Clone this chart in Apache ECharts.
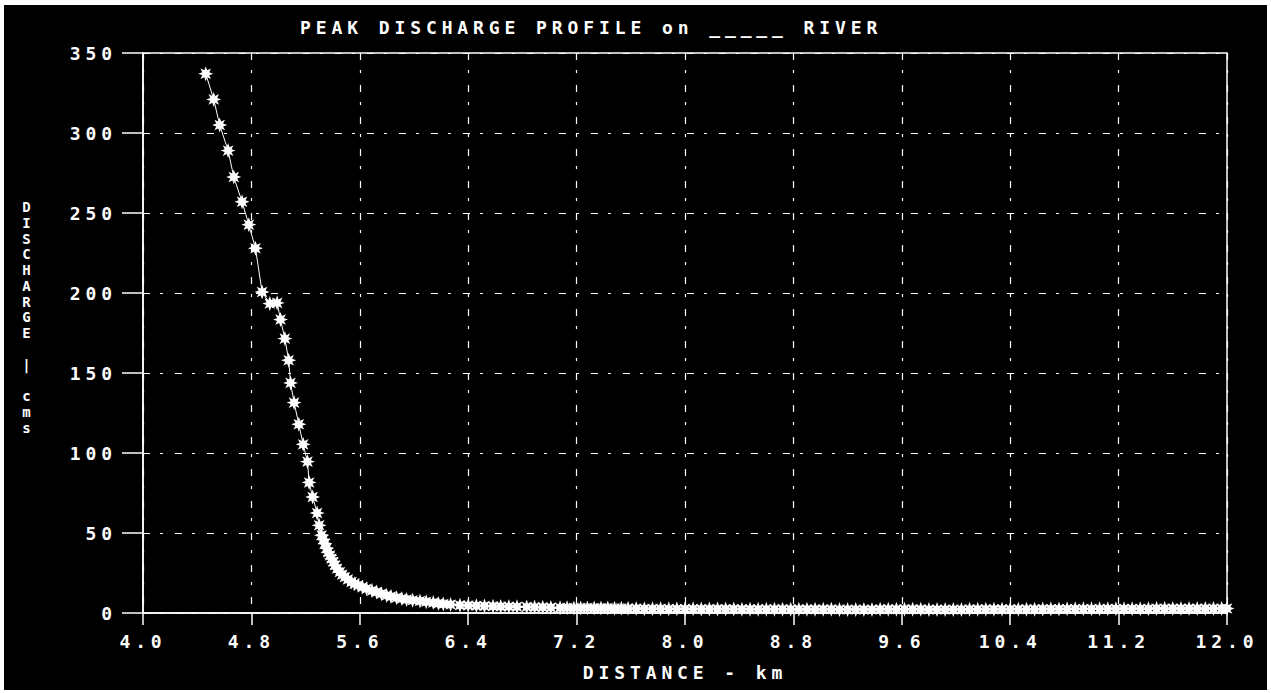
<!DOCTYPE html>
<html>
<head>
<meta charset="utf-8">
<script src="https://cdn.jsdelivr.net/npm/echarts@6.0.0/dist/echarts.min.js"></script>
<style>
  html, body { margin: 0; padding: 0; background: #fff; }
  #frame { position: absolute; left: 4px; top: 5px; width: 1263px; height: 685px; background: #000; }
  #chart { position: absolute; left: 0; top: 0; width: 1271px; height: 693px; }
  #chart svg text { letter-spacing: 4.9px; }
</style>
</head>
<body>
<div id="frame"></div>
<div id="chart"></div>
<script>
const titleText = 'PEAK DISCHARGE PROFILE on _____ RIVER';
const xAxisName = 'DISTANCE - km';
// stacked vertical label; two trailing empty lines keep the stack in its place above the axis middle
const yAxisName = 'D\nI\nS\nC\nH\nA\nR\nG\nE\n \n|\n \nc\nm\ns\n \n ';

const xMin = 4.0, xMax = 12.0, xStep = 0.8;
const yMin = 0, yMax = 350, yStep = 50;

const distance_km = [
  4.463, 4.522, 4.566, 4.628, 4.670, 4.731, 4.781, 4.830, 4.879, 4.936,
  4.990, 5.015, 5.047, 5.075, 5.089, 5.115, 5.150, 5.182, 5.214, 5.226,
  5.252, 5.285, 5.300, 5.318, 5.330, 5.342, 5.355, 5.366, 5.380, 5.391,
  5.405, 5.416, 5.432, 5.453, 5.470, 5.490, 5.512, 5.539, 5.562, 5.588,
  5.620, 5.650, 5.690, 5.724, 5.760, 5.798, 5.830, 5.871, 5.910, 5.945,
  5.990, 6.044, 6.090, 6.142, 6.180, 6.216, 6.270, 6.339, 6.400, 6.460,
  6.520, 6.583, 6.640, 6.700, 6.760, 6.832, 6.890, 6.950, 7.010, 7.078,
  7.130, 7.180, 7.230, 7.280, 7.330, 7.380, 7.430, 7.480, 7.530, 7.580,
  7.64, 7.70, 7.76, 7.82, 7.88, 7.94, 8.00, 8.06, 8.12, 8.18,
  8.24, 8.30, 8.36, 8.42, 8.48, 8.54, 8.60, 8.66, 8.72, 8.78,
  8.84, 8.90, 8.96, 9.02, 9.08, 9.14, 9.20, 9.26, 9.32, 9.38,
  9.44, 9.50, 9.56, 9.62, 9.68, 9.74, 9.80, 9.86, 9.92, 9.98,
  10.04, 10.10, 10.16, 10.22, 10.28, 10.34, 10.40, 10.46, 10.52, 10.58,
  10.64, 10.70, 10.76, 10.82, 10.88, 10.94, 11.00, 11.06, 11.12, 11.18,
  11.24, 11.30, 11.36, 11.42, 11.48, 11.54, 11.60, 11.66, 11.72, 11.78,
  11.84, 11.90, 11.96, 12.00
];

const discharge_cms = [
  337, 321, 305, 289, 272.5, 257, 242.7, 228, 200.6, 193.4,
  193.8, 183.4, 171.5, 158, 143.8, 131.5, 118, 105.4, 94.6, 81.6,
  72.5, 62.5, 54.8, 48.6, 46, 43.4, 40.5, 38, 36, 34,
  32, 29.8, 27.8, 25.6, 24, 22.5, 21, 19.4, 18.3, 17.3,
  16.2, 15.2, 14, 13.1, 12, 11, 10.3, 9.6, 9, 8.4,
  8, 7.5, 7, 6.5, 6, 5.6, 5.3, 4.8, 4.7, 4.5,
  4.4, 4.2, 4.1, 4.0, 3.9, 3.8, 3.7, 3.6, 3.4, 3.3,
  3.3, 3.2, 3.2, 3.2, 3.1, 3.1, 3.1, 3.0, 3.0, 2.9,
  2.8, 2.7, 2.7, 2.7, 2.6, 2.6, 2.6, 2.6, 2.5, 2.5,
  2.5, 2.5, 2.5, 2.4, 2.4, 2.4, 2.4, 2.4, 2.4, 2.3,
  2.3, 2.3, 2.3, 2.3, 2.3, 2.2, 2.2, 2.2, 2.2, 2.2,
  2.3, 2.4, 2.3, 2.4, 2.3, 2.3, 2.2, 2.2, 2.2, 2.2,
  2.2, 2.3, 2.3, 2.4, 2.3, 2.4, 2.3, 2.4, 2.3, 2.4,
  2.5, 2.5, 2.5, 2.6, 2.6, 2.6, 2.6, 2.6, 2.7, 2.7,
  2.7, 2.7, 2.7, 2.7, 2.8, 2.8, 2.8, 2.8, 2.8, 2.8,
  2.8, 2.8, 2.8, 2.8
];

const FONT = 'DejaVu Sans Mono';
const WHITE = '#ffffff';
// 8-point star marker (shape only, not data)
const STAR = 'path://M20,10L14.6,11.91L17.07,17.07L11.91,14.6L10,20L8.09,14.6L2.93,17.07L5.4,11.91L0,10L5.4,8.09L2.93,2.93L8.09,5.4L10,0L11.91,5.4L17.07,2.93L14.6,8.09Z';
const gridDash = [7, 10, 3, 12];

const seriesData = distance_km.map((d, i) => [d, discharge_cms[i]]);

const chart = echarts.init(document.getElementById('chart'), null, { renderer: 'svg' });
const textBase = { color: WHITE, fontFamily: FONT, fontWeight: 'bold', fontSize: 18 };

chart.setOption({
  animation: false,
  backgroundColor: 'transparent',
  title: {
    text: titleText,
    left: 300,
    top: 18,
    padding: 0,
    textStyle: Object.assign({}, textBase)
  },
  grid: {
    left: 143, right: 44, top: 53, bottom: 80,
    containLabel: false,
    outerBoundsMode: 'none',
    show: true,
    borderColor: WHITE,
    borderWidth: 1.5,
    backgroundColor: 'transparent'
  },
  xAxis: {
    type: 'value',
    min: xMin, max: xMax, interval: xStep,
    axisLine: { show: true, onZero: false, lineStyle: { color: WHITE, width: 1.5 } },
    axisTick: { show: true, length: 12, lineStyle: { color: WHITE, width: 1.5 } },
    axisLabel: Object.assign({}, textBase, {
      margin: 28,
      verticalAlign: 'middle',
      formatter: v => v.toFixed(1)
    }),
    splitLine: { show: true, lineStyle: { color: WHITE, width: 1.2, type: gridDash } },
    name: xAxisName,
    nameLocation: 'middle',
    nameGap: 59,
    nameMoveOverlap: false,
    nameTextStyle: Object.assign({}, textBase, { align: 'center', verticalAlign: 'middle' })
  },
  yAxis: {
    type: 'value',
    min: yMin, max: yMax, interval: yStep,
    axisLine: { show: true, lineStyle: { color: WHITE, width: 1.5 } },
    axisTick: { show: true, length: 21, lineStyle: { color: WHITE, width: 1.5 } },
    axisLabel: Object.assign({}, textBase, { margin: 26 }),
    splitLine: { show: true, lineStyle: { color: WHITE, width: 1.2, type: gridDash } },
    name: yAxisName,
    nameLocation: 'middle',
    nameRotate: 0,
    nameGap: 114,
    nameMoveOverlap: false,
    nameTextStyle: Object.assign({}, textBase, {
      fontSize: 14, align: 'center', verticalAlign: 'middle', lineHeight: 15.75
    })
  },
  series: [{
    type: 'line',
    data: seriesData,
    symbol: STAR,
    symbolSize: 15,
    symbolKeepAspect: true,
    showAllSymbol: true,
    itemStyle: { color: WHITE, borderWidth: 0 },
    lineStyle: { color: WHITE, width: 1 },
    emphasis: { disabled: true },
    z: 3
  }]
});
</script>
</body>
</html>
